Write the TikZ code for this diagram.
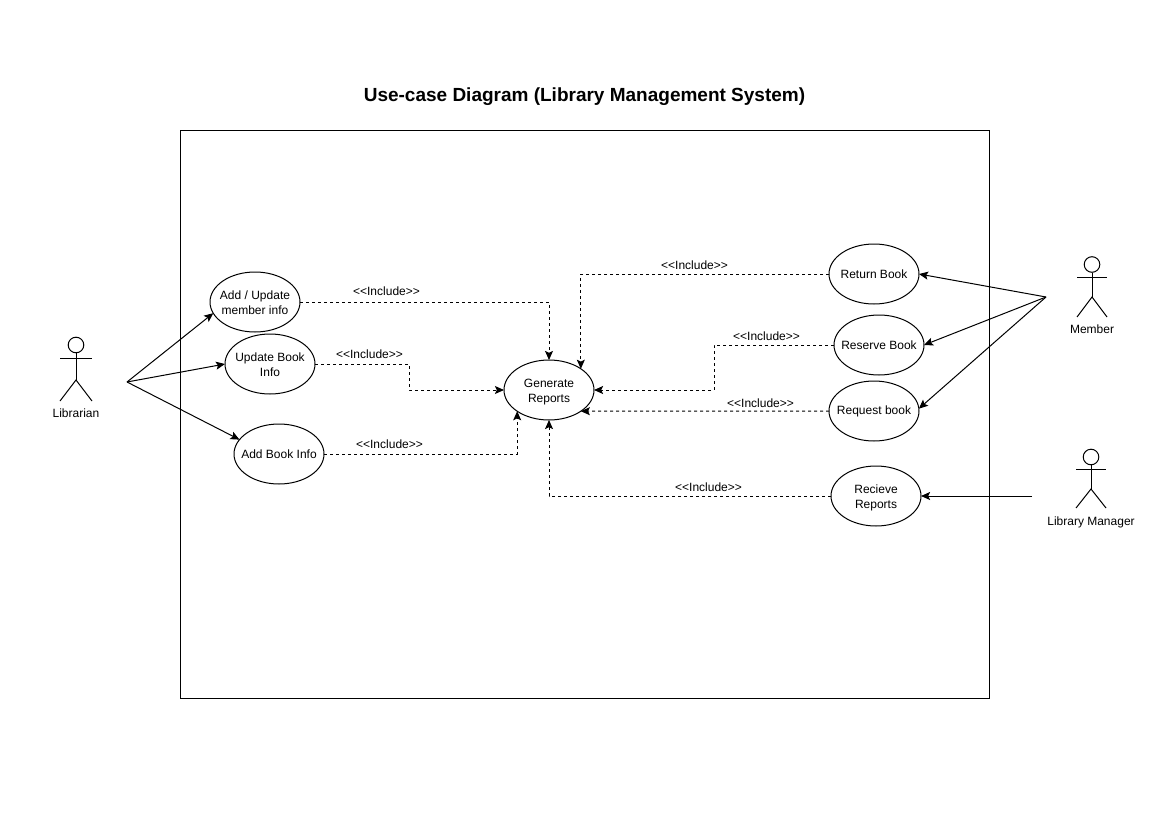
\documentclass[tikz,border=0pt]{standalone}
\usepackage{fontspec}
\setmainfont{Liberation Sans}
\usetikzlibrary{shapes.geometric,arrows.meta,positioning}
\tikzset{
  uc/.style={ellipse,draw=black,line width=0.75pt,minimum width=67.5pt,minimum height=45pt,inner xsep=-14pt,inner ysep=0pt,outer sep=0pt,align=center,font=\fontsize{9}{11.25}\selectfont},
  txt/.style={inner sep=0pt,align=center,font=\fontsize{9}{11.25}\selectfont},
  assoc/.style={draw=black,line width=0.75pt,-{Stealth[length=6.8pt,width=6pt,inset=1.4pt]}},
  incl/.style={assoc,dash pattern=on 2.25pt off 2.25pt},
  stick/.style={draw=black,line width=0.75pt},
}
\newcommand{\lift}{\rule{0pt}{9.4pt}}
\newcommand{\liftb}{\rule{0pt}{8pt}}
% name, x, half width, head y, arm y, hip y, foot y, label y, label
\newcommand{\actor}[9]{%
  \node[circle,stick,minimum size=11.7pt,inner sep=0pt] (#1head) at (#2,#4) {};
  \draw[stick] (#2-#3,#5) -- (#2+#3,#5);
  \draw[stick] (#1head.south) -- (#2,#6);
  \draw[stick] (#2-#3,#7) -- (#2,#6) -- (#2+#3,#7);
  \node[txt] (#1label) at (#2,#8) {#9};
}
\begin{document}
\begin{tikzpicture}[x=0.75pt,y=-0.75pt]
\useasboundingbox (0,0) rectangle (1169,827);
\fill[white] (0,0) rectangle (1169,827);
\node[inner sep=0pt,font=\fontsize{14.25}{18}\selectfont\bfseries] (title) at (584.5,96.5) {Use-case Diagram (Library Management System)};
\node[draw=black,line width=0.75pt,minimum width=606.75pt,minimum height=426pt,inner sep=0pt,outer sep=0pt] (system) at (585,414.25) {};

\node[uc] (addupd) at (255,302) {\liftb Add / Update\\member info};
\node[uc] (updbook) at (270,364) {\liftb Update Book\\Info};
\node[uc] (addbook) at (279,454) {Add Book Info};
\node[uc] (gen) at (549,390) {\lift Generate\\Reports};
\node[uc] (return) at (874,274) {Return Book};
\node[uc] (reserve) at (879,345) {Reserve Book};
\node[uc] (request) at (874,411) {Request book};
\node[uc] (recieve) at (876,496) {\lift Recieve\\Reports};

\actor{lib}{76}{16}{345}{358}{380}{401}{413}{Librarian}
\actor{mem}{1092}{15}{264.5}{277}{297}{317}{329}{Member}
\actor{mgr}{1091}{15}{457}{469}{489}{508}{522}{Library Manager}

\coordinate (libend) at (127,382);
\coordinate (memend) at (1046,297);
\coordinate (mgrend) at (1032,496);

\draw[assoc] (libend) -- (addupd.195);
\draw[assoc] (libend) -- (updbook.west);
\draw[assoc] (libend) -- (addbook.160);
\draw[assoc] (memend) -- (return.east);
\draw[assoc] (memend) -- (reserve.east);
\draw[assoc] (memend) -- (request.3);
\draw[assoc] (mgrend) -- (recieve.east);

\draw[incl] (addupd.east) -| (gen.north);
\draw[incl] (updbook.east) -- ++(94,0) |- (gen.west);
\draw[incl] (addbook.east) -| (gen.south west);
\draw[incl] (return.west) -| (gen.north east);
\draw[incl] (reserve.west) -- ++(-120,0) |- (gen.east);
\draw[incl] (request.west) -- (gen.south east);
\draw[incl] (recieve.west) -| (gen.south);

\node[txt] (i1) at (386.5,291) {<{}<Include>{}>};
\node[txt] (i2) at (369.5,354) {<{}<Include>{}>};
\node[txt] (i3) at (389.5,444) {<{}<Include>{}>};
\node[txt] (i4) at (694.5,265) {<{}<Include>{}>};
\node[txt] (i5) at (766.5,336) {<{}<Include>{}>};
\node[txt] (i6) at (760.5,403) {<{}<Include>{}>};
\node[txt] (i7) at (708.5,487) {<{}<Include>{}>};
\end{tikzpicture}
\end{document}
